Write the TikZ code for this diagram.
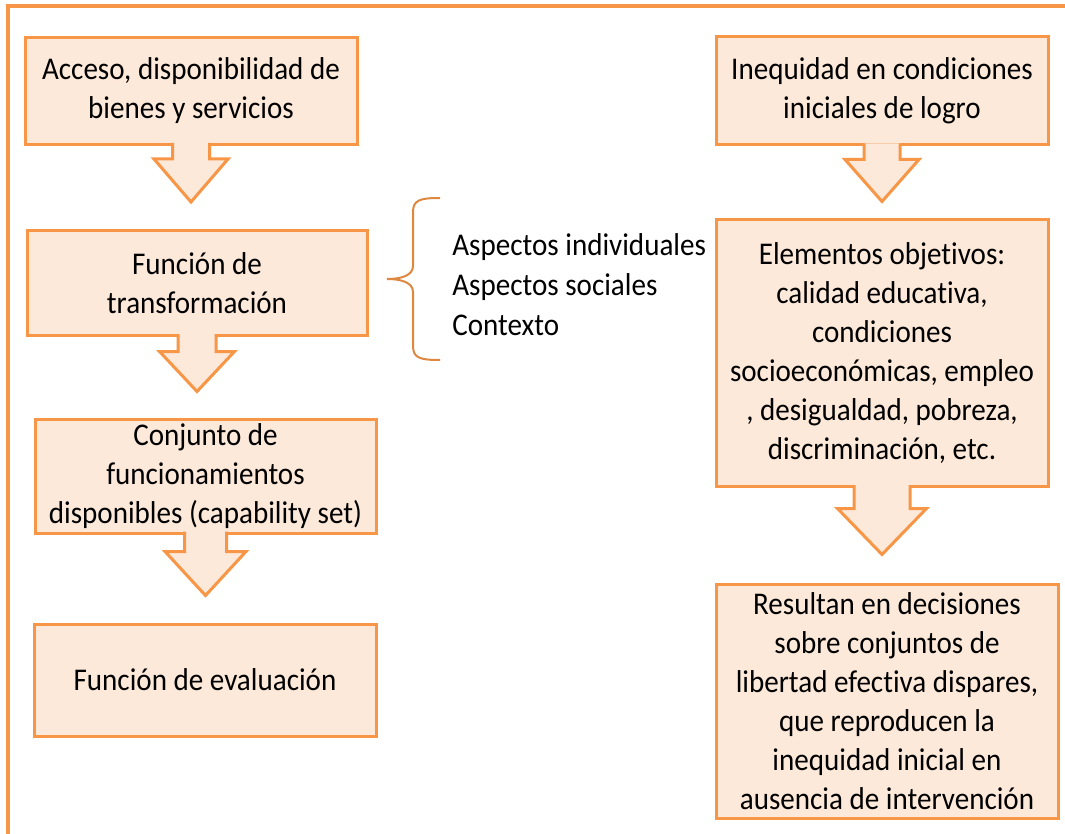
\documentclass[tikz,border=0pt]{standalone}
\usepackage{fontspec}
\setmainfont{Carlito}[FakeStretch=0.92,Ligatures=NoCommon]
\usetikzlibrary{calc}
\definecolor{naranja}{HTML}{F79646}
\definecolor{durazno}{HTML}{FDE9D9}
\newcommand{\flecha}[5]{%
\draw[flecha] ($(#1.south)+(-#2,-3)$) -- ++(0,{#4+3}) -- ++({#2-#3},0) -- ++(#3,#5) -- ++(#3,-#5) -- ++({#2-#3},0) -- ++(0,{-(#4+3)});}
\begin{document}
\begin{tikzpicture}[x=0.5pt,y=-0.5pt,
  caja/.style={draw=naranja, fill=durazno, line width=1.5pt, align=center, inner sep=2pt,
    font=\fontsize{15.8}{19.5}\selectfont},
  flecha/.style={draw=naranja, fill=durazno, line width=1.5pt, line join=miter},
  llave/.style={draw=naranja!90!black, line width=1pt},
  marco/.style={draw=naranja, line width=2pt}]
\useasboundingbox (0,0) rectangle (1065,834);
\draw[marco] (8,834) -- (8,6) -- (1065,6);
\node[caja, minimum width=166pt, minimum height=53.5pt] (acceso) at (191,91) {Acceso, disponibilidad de\\bienes y servicios};
\node[caja, minimum width=170pt, minimum height=52.5pt] (transf) at (197,283) {Función de\\transformación};
\node[caja, minimum width=170.5pt, minimum height=57pt] (conjunto) at (205.5,476) {Conjunto de\\funcionamientos\\disponibles (capability set)};
\node[caja, minimum width=171pt, minimum height=56pt] (evalua) at (205,680) {Función de evaluación};
\node[caja, minimum width=166pt, minimum height=54pt] (inequidad) at (882,91) {Inequidad en condiciones\\iniciales de logro};
\node[caja, minimum width=166pt, minimum height=133.5pt] (elementos) at (882,353) {Elementos objetivos:\\calidad educativa,\\condiciones\\socioeconómicas, empleo\\, desigualdad, pobreza,\\discriminación, etc.};
\node[caja, minimum width=171pt, minimum height=117pt] (resultan) at (887,701) {Resultan en decisiones\\sobre conjuntos de\\libertad efectiva dispares,\\que reproducen la\\inequidad inicial en\\ausencia de intervención};
\flecha{acceso}{18.5}{37}{13}{43}
\flecha{transf}{19}{37.5}{14.5}{40}
\flecha{conjunto}{21}{40.5}{17}{44}
\flecha{inequidad}{18}{37}{13}{42}
\flecha{elementos}{28}{44.5}{20.5}{46}
\node[anchor=west, align=left, inner sep=0pt, font=\fontsize{15.8}{20}\selectfont] (aspectos) at (452,285) {Aspectos individuales\\Aspectos sociales\\Contexto};
\draw[llave] (440,198) .. controls (420,198) and (413,200) .. (413,212) -- (413,266) .. controls (413,276) and (400,279) .. (387,279) .. controls (400,279) and (413,282) .. (413,292) -- (413,346) .. controls (413,358) and (420,360) .. (440,360);
\end{tikzpicture}
\end{document}
